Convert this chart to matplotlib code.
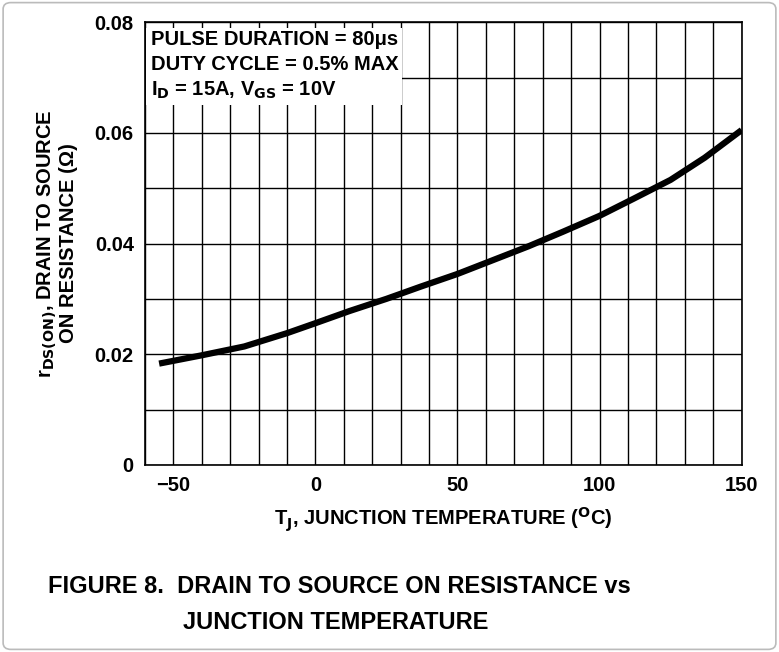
import matplotlib.pyplot as plt
from matplotlib.patches import FancyBboxPatch

plt.rcParams['font.family'] = ['Liberation Sans', 'DejaVu Sans']
plt.rcParams['font.weight'] = 'bold'

temp = [-55, -40, -25, -10, 0, 12, 25, 37, 50, 62, 75, 87, 100, 112, 125, 137, 150]
rds = [0.0183, 0.0198, 0.0214, 0.0238, 0.0256, 0.0278, 0.0300, 0.0322, 0.0345, 0.0369, 0.0395, 0.0421, 0.0450, 0.0481, 0.0515, 0.0555, 0.0605]
xticks = [-50, 0, 50, 100, 150]
yticks = [0, 0.02, 0.04, 0.06, 0.08]
yticklabels = ['0', '0.02', '0.04', '0.06', '0.08']

fig = plt.figure(figsize=(7.79, 6.52), dpi=100)
fig.patches.append(FancyBboxPatch((0.004, 0.004), 0.992, 0.992, boxstyle='round,pad=0,rounding_size=0.01',
                                  transform=fig.transFigure, fill=False, edgecolor='#bbbbbb', lw=1.2))
ax = fig.add_axes([0.186, 0.287, 0.766, 0.679])

ax.plot(temp, rds, color='black', lw=4.5, solid_capstyle='butt', zorder=3)
ax.set_xlim(-60, 150)
ax.set_ylim(0, 0.08)
ax.set_xticks(range(-60, 151, 10), minor=True)
ax.set_yticks([i * 0.01 for i in range(9)], minor=True)
ax.set_xticks(xticks)
ax.set_yticks(yticks)
ax.set_yticklabels(yticklabels)
ax.grid(True, which='both', color='black', lw=1)
ax.tick_params(which='both', length=0, labelsize=14.5, pad=8)
for s in ax.spines.values():
    s.set_linewidth(1.2)

ax.set_xlabel('T$_\\mathbf{J}$, JUNCTION TEMPERATURE ($^\\mathbf{O}$C)', fontsize=14.5, fontweight='bold', labelpad=8)
ax.set_ylabel('r$_\\mathbf{DS(ON)}$, DRAIN TO SOURCE\nON RESISTANCE (Ω)', fontsize=14.5, fontweight='bold',
              labelpad=12, linespacing=1.0)

ax.text(-58, 0.0785, 'PULSE DURATION = 80μs\nDUTY CYCLE = 0.5% MAX\nI$_\\mathbf{D}$ = 15A, V$_\\mathbf{GS}$ = 10V',
        fontsize=14.5, fontweight='bold', va='top', ha='left', linespacing=1.35, zorder=4,
        bbox=dict(facecolor='white', edgecolor='none', pad=3))

fig.text(0.062, 0.09, 'FIGURE 8.  DRAIN TO SOURCE ON RESISTANCE vs', fontsize=17, fontweight='bold')
fig.text(0.235, 0.035, 'JUNCTION TEMPERATURE', fontsize=17, fontweight='bold')

fig.savefig('out.png', dpi=100)
